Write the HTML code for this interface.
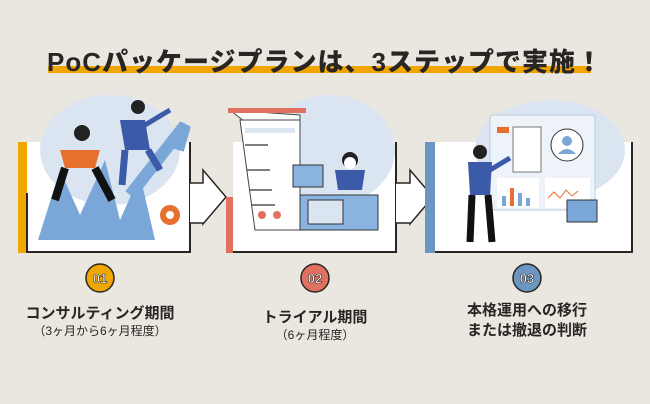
<!DOCTYPE html>
<html><head><meta charset="utf-8"><style>
body{margin:0;width:650px;height:404px;background:#e9e7e0;overflow:hidden;font-family:"Liberation Sans","Noto Sans CJK JP",sans-serif;position:relative}
.t{position:absolute;font-weight:bold;color:#2a2522;text-align:center}
</style></head><body>
<div style="position:absolute;left:48px;top:66px;width:543px;height:7px;background:#f0a500"></div>
<div class="t" style="left:0;width:650px;top:42px;font-size:26px;letter-spacing:1px;font-weight:900">PoCパッケージプランは、3ステップで実施！</div>
<svg width="650" height="404" style="position:absolute;left:0;top:0">
<rect x="18" y="142" width="9" height="111" fill="#f0a800"/>
<rect x="27" y="142" width="163" height="111" fill="#fff"/>
<path d="M27 193V252H190V142" fill="none" stroke="#2a2522" stroke-width="2"/>
<path d="M190 183H203V170L226 197L203 224V223H190" fill="#fff" stroke="#2a2522" stroke-width="1.5"/>
<rect x="226" y="197" width="7" height="56" fill="#e07060"/>
<rect x="233" y="142" width="163" height="111" fill="#fff"/>
<path d="M396 142V252H233" fill="none" stroke="#2a2522" stroke-width="2"/>
<path d="M396 183H410V170L433 197L410 224V223H396" fill="#fff" stroke="#2a2522" stroke-width="1.5"/>
<rect x="425" y="142" width="10" height="111" fill="#6b96c0"/>
<rect x="435" y="142" width="197" height="111" fill="#fff"/>
<path d="M632 142V252H435" fill="none" stroke="#2a2522" stroke-width="2"/>
<ellipse cx="110" cy="150" rx="70" ry="55" fill="#dbe5f2"/>
<path d="M38 240L60 170L80 215L105 160L120 220L140 175L155 240Z" fill="#7ba7d8"/>
<path d="M130 195L185 125L178 150" fill="none" stroke="#7ba7d8" stroke-width="12"/>
<circle cx="170" cy="215" r="10" fill="#e8702f"/>
<circle cx="170" cy="215" r="4" fill="#fff"/>
<path d="M60 150H100L95 168H65Z" fill="#e8702f"/>
<circle cx="82" cy="133" r="8" fill="#222"/>
<path d="M65 168L55 200M95 168L112 200" stroke="#111" stroke-width="8"/>
<path d="M120 120H145L150 150H125Z" fill="#3b5aa8"/>
<circle cx="138" cy="107" r="7" fill="#222"/>
<path d="M125 150L122 185M148 150L160 170" stroke="#3b5aa8" stroke-width="7"/>
<path d="M145 125L170 110" stroke="#3b5aa8" stroke-width="5"/>
<ellipse cx="330" cy="150" rx="65" ry="55" fill="#dbe5f2"/>
<path d="M230 110L255 130V225H300V115Z" fill="#fff" stroke="#444"/>
<path d="M240 120H300V230H255Z" fill="#fff" stroke="#444"/>
<rect x="228" y="108" width="78" height="5" fill="#e07060"/>
<rect x="245" y="128" width="50" height="5" fill="#dbe5f2"/>
<g stroke="#555" stroke-width="1.5"><path d="M245 145H268M247 170H270M250 190H272M252 205H275"/></g>
<circle cx="262" cy="215" r="4" fill="#e07060"/><circle cx="277" cy="215" r="4" fill="#e07060"/>
<rect x="293" y="165" width="30" height="22" fill="#8bb3e0" stroke="#333"/>
<path d="M335 170H365L362 190H338Z" fill="#3b5aa8"/>
<circle cx="350" cy="160" r="8" fill="#222"/><circle cx="350" cy="163" r="6" fill="#fff"/>
<path d="M300 195H378V230H300Z" fill="#8bb3e0" stroke="#333"/>
<rect x="308" y="200" width="35" height="24" fill="#dbe5f2" stroke="#333"/>
<ellipse cx="550" cy="150" rx="75" ry="50" fill="#dbe5f2"/>
<rect x="490" y="115" width="105" height="95" rx="3" fill="#eef3fa" stroke="#bcd"/>
<rect x="513" y="127" width="28" height="45" fill="#fff" stroke="#777"/>
<rect x="497" y="127" width="12" height="6" fill="#e8702f"/>
<circle cx="567" cy="145" r="16" fill="#fff" stroke="#333"/>
<circle cx="567" cy="141" r="5" fill="#7ba7d8"/><path d="M558 154Q567 144 576 154" fill="#7ba7d8"/>
<rect x="497" y="178" width="42" height="30" fill="#fff"/>
<rect x="502" y="196" width="4" height="10" fill="#7ba7d8"/><rect x="510" y="188" width="4" height="18" fill="#e8702f"/><rect x="518" y="193" width="4" height="13" fill="#7ba7d8"/><rect x="526" y="198" width="4" height="8" fill="#7ba7d8"/>
<rect x="545" y="178" width="45" height="30" fill="#fff"/>
<path d="M548 198l6-6 6 6 6-8 6 6 6-5" fill="none" stroke="#e8702f"/>
<rect x="567" y="200" width="30" height="22" fill="#7ba7d8" stroke="#333"/>
<circle cx="480" cy="152" r="7" fill="#222"/>
<path d="M468 162H492L490 195H470Z" fill="#3b5aa8"/>
<path d="M472 195L470 242M488 195L492 242" stroke="#111" stroke-width="7"/>
<path d="M490 170L510 158" stroke="#3b5aa8" stroke-width="5"/>
<circle cx="100" cy="278" r="14" fill="#f0a800" stroke="#2a2522" stroke-width="1.5"/>
<circle cx="315" cy="278" r="14" fill="#e07060" stroke="#2a2522" stroke-width="1.5"/>
<circle cx="527" cy="278" r="14" fill="#6b96c0" stroke="#2a2522" stroke-width="1.5"/>
<g font-family="Liberation Sans" font-weight="bold" font-size="13" fill="#fff" stroke="#2a2522" stroke-width="0.6" text-anchor="middle">
<text x="100" y="283">01</text><text x="315" y="283">02</text><text x="527" y="283">03</text></g>
</svg>
<div class="t" style="left:0;width:200px;top:302px;font-size:15px">コンサルティング期間</div>
<div class="t" style="left:0;width:200px;top:322px;font-size:12px;font-weight:normal">（3ヶ月から6ヶ月程度）</div>
<div class="t" style="left:215px;width:200px;top:306px;font-size:15px">トライアル期間</div>
<div class="t" style="left:215px;width:200px;top:326px;font-size:12px;font-weight:normal">（6ヶ月程度）</div>
<div class="t" style="left:427px;width:200px;top:301px;font-size:15px;line-height:20px">本格運用への移行<br>または撤退の判断</div>
</body></html>
